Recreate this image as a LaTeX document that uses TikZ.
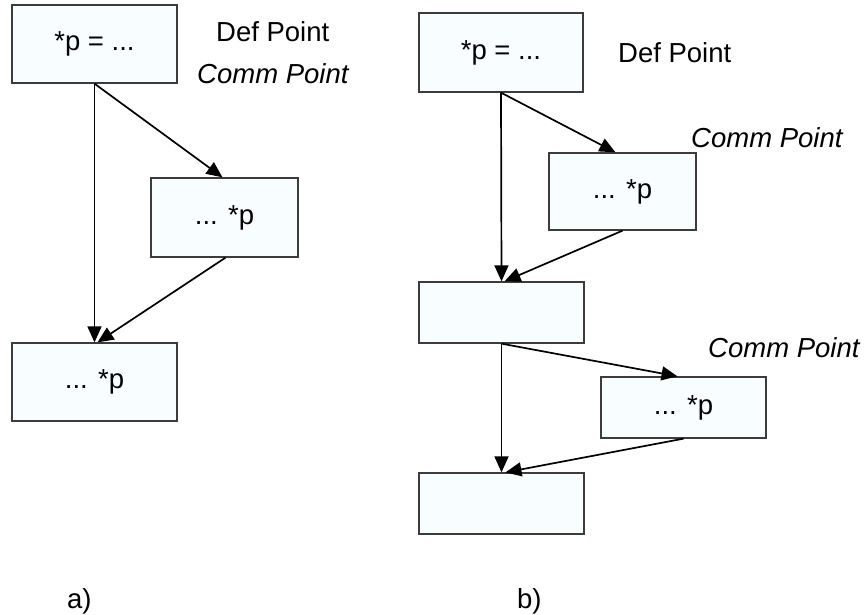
\documentclass[tikz,border=0pt]{standalone}
\usepackage{fontspec}
\setmainfont{Liberation Sans}
\usetikzlibrary{arrows.meta,calc}
\definecolor{boxfill}{RGB}{248,254,255}
\definecolor{boxdraw}{RGB}{60,60,60}
\begin{document}
\begin{tikzpicture}[x=1pt,y=-1pt,
  blk/.style={draw=boxdraw,fill=boxfill,line width=1.3pt,inner sep=0pt,font=\fontsize{27.5}{33}\selectfont},
  lbl/.style={inner sep=0pt,anchor=base west,font=\fontsize{27.5}{33}\selectfont},
  ilbl/.style={lbl,font=\fontsize{27.5}{33}\selectfont\itshape},
  flow/.style={line width=1.7pt,-{Triangle[length=16pt,width=14pt]}}]
\useasboundingbox (0,0) rectangle (864,615);
% a)
\node[blk,minimum width=165pt,minimum height=78pt] (a1) at (94.5,44) {*p = ...};
\node[blk,minimum width=147pt,minimum height=79pt] (a2) at (224.5,217.5) {... *p};
\node[blk,minimum width=165pt,minimum height=78pt] (a3) at (94.5,382) {... *p};
\node[lbl] (da) at (216,42) {Def Point};
\node[ilbl] (ca) at (197,84) {Comm Point};
\draw[flow] (a1.south) -- (a3.north);
\draw[flow] (a1.south) -- ($(a2.north)+(-2,0)$);
\draw[flow] ($(a2.south)+(1,0)$) -- ($(a3.north)+(3,0)$);
\node[lbl] (la) at (67,608) {a)};
% b)
\node[blk,minimum width=164pt,minimum height=79pt] (b1) at (501,52.5) {*p = ...};
\node[blk,minimum width=147pt,minimum height=77pt] (b2) at (622.5,191.5) {... *p};
\node[blk,minimum width=165pt,minimum height=61pt] (b3) at (501.5,312.5) {};
\node[blk,minimum width=165pt,minimum height=61pt] (b4) at (683.5,407.5) {... *p};
\node[blk,minimum width=165pt,minimum height=61pt] (b5) at (501.5,503.5) {};
\node[lbl] (db) at (618,63) {Def Point};
\node[ilbl] (cb1) at (691,147) {Comm Point};
\node[ilbl] (cb2) at (708,357) {Comm Point};
\draw[flow] (b1.south) -- (b3.north);
\draw[flow] (b1.south) -- ($(b2.north)+(-7,0)$);
\draw[flow] ($(b2.south)+(0,0)$) -- ($(b3.north)+(3,0)$);
\draw[flow] (b3.south) -- (b5.north);
\draw[flow] (b3.south) -- ($(b4.north)+(-6,0)$);
\draw[flow] (b4.south) -- ($(b5.north)+(4,0)$);
\node[lbl] (lb) at (517,608) {b)};
\end{tikzpicture}
\end{document}
